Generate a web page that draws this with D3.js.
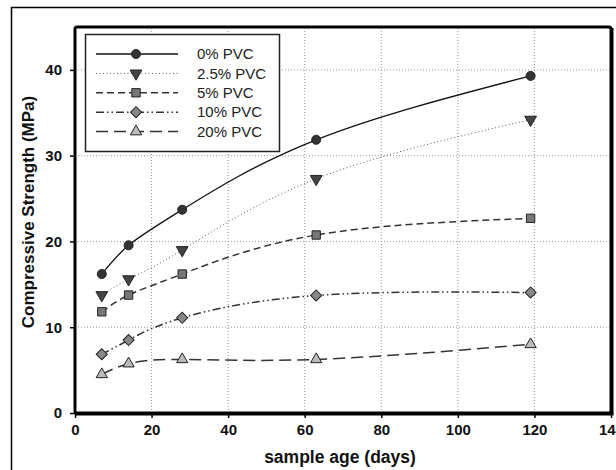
<!DOCTYPE html>
<html>
<head>
<meta charset="utf-8">
<script src="https://cdn.jsdelivr.net/npm/d3@7"></script>
<style>
  body { margin: 0; background: #fff; }
  svg { display: block; font-family: Arial, "Liberation Sans", sans-serif; }
</style>
</head>
<body>
<div id="chart"></div>
<script>
// sample ages (days)
const ages = [7, 14, 28, 63, 119];
const seriesNames = ['0% PVC', '2.5% PVC', '5% PVC', '10% PVC', '20% PVC'];
const pvc0 = [16.2, 19.55, 23.7, 31.85, 39.3];
const pvc25 = [13.75, 15.6, 19.0, 27.3, 34.2];
const pvc5 = [11.8, 13.75, 16.2, 20.75, 22.7];
const pvc10 = [6.85, 8.5, 11.1, 13.7, 14.05];
const pvc20 = [4.5, 5.75, 6.25, 6.25, 8.0];
const xTicks = [0, 20, 40, 60, 80, 100, 120, 140];
const yTicks = [0, 10, 20, 30, 40];

const width = 616, height = 470;
const margin = { top: 27, right: 5, bottom: 57, left: 75 };

const svg = d3.select('#chart').append('svg')
    .attr('width', width)
    .attr('height', height);

// outer frame, runs off the right and bottom edge
svg.append('rect')
    .attr('x', 11.5).attr('y', 7.5)
    .attr('width', 640).attr('height', 500)
    .style('fill', 'none').style('stroke', '#000').style('stroke-width', 1.5);

const x = d3.scaleLinear().domain([0, 140]).range([margin.left, width - margin.right]);
const y = d3.scaleLinear().domain([0, 45]).range([height - margin.bottom, margin.top]);

// grid
const grid = svg.append('g');
grid.selectAll('.gx')
    .data(xTicks.filter(d => d > 0 && d < 140))
    .join('line')
    .attr('x1', d => x(d)).attr('x2', d => x(d))
    .attr('y1', y(0)).attr('y2', y(45))
    .style('stroke', '#999').style('stroke-width', 1).style('stroke-dasharray', '1,2');
grid.selectAll('.gy')
    .data(yTicks.filter(d => d > 0))
    .join('line')
    .attr('x1', x(0)).attr('x2', x(140))
    .attr('y1', d => y(d)).attr('y2', d => y(d))
    .style('stroke', '#999').style('stroke-width', 1).style('stroke-dasharray', '1,2');

// series definitions
const series = [
    { name: seriesNames[0], values: pvc0, dash: null, width: 1.3, color: '#111', marker: 'circle', fill: '#333' },
    { name: seriesNames[1], values: pvc25, dash: '1,2.5', width: 1, color: '#555', marker: 'triDown', fill: '#444' },
    { name: seriesNames[2], values: pvc5, dash: '7,4', width: 1.5, color: '#333', marker: 'square', fill: '#777' },
    { name: seriesNames[3], values: pvc10, dash: '8,3,1.5,3,1.5,3', width: 1.5, color: '#333', marker: 'diamond', fill: '#888' },
    { name: seriesNames[4], values: pvc20, dash: '12,6', width: 1.5, color: '#333', marker: 'triUp', fill: '#bbb' }
];

const symbolFor = {
    circle: d3.symbol().type(d3.symbolCircle).size(64),
    square: d3.symbol().type(d3.symbolSquare).size(70),
    diamond: d3.symbol().type(d3.symbolSquare).size(62),
    triUp: d3.symbol().type(d3.symbolTriangle).size(55),
    triDown: d3.symbol().type(d3.symbolTriangle).size(60)
};
const rotateFor = { triDown: 180, diamond: 45 };

function drawMarker(g, s, cx, cy) {
    g.append('path')
        .attr('d', symbolFor[s.marker]())
        .attr('transform', `translate(${cx},${cy}) rotate(${rotateFor[s.marker] || 0})`)
        .style('fill', s.fill)
        .style('stroke', '#222')
        .style('stroke-width', 1);
}

const line = d3.line()
    .x(d => x(d[0]))
    .y(d => y(d[1]))
    .curve(d3.curveNatural);

const plot = svg.append('g');
series.forEach(s => {
    const pts = ages.map((a, i) => [a, s.values[i]]);
    plot.append('path')
        .datum(pts)
        .attr('d', line)
        .style('fill', 'none')
        .style('stroke', s.color)
        .style('stroke-width', s.width)
        .style('stroke-dasharray', s.dash);
});
series.forEach(s => {
    ages.forEach((a, i) => drawMarker(plot, s, x(a), y(s.values[i])));
});

// axes
const xAxis = svg.append('g')
    .attr('transform', `translate(0,${y(0)})`)
    .call(d3.axisBottom(x).tickValues(xTicks).tickSize(5).tickPadding(6));
const yAxis = svg.append('g')
    .attr('transform', `translate(${x(0)},0)`)
    .call(d3.axisLeft(y).tickValues(yTicks).tickSize(5).tickPadding(8));
[xAxis, yAxis].forEach(ax => {
    ax.select('.domain').remove();
    ax.selectAll('line').style('stroke', '#000').style('stroke-width', 1.5);
    ax.selectAll('text')
        .style('font-size', '15px')
        .style('font-weight', 'bold')
        .style('fill', '#111');
});

// plot frame with heavier right and bottom edges
svg.append('rect')
    .attr('x', x(0)).attr('y', y(45))
    .attr('width', x(140) - x(0)).attr('height', y(0) - y(45))
    .attr('rx', 2)
    .style('fill', 'none').style('stroke', '#000').style('stroke-width', 3);
svg.append('line')
    .attr('x1', x(140) + 1.5).attr('x2', x(140) + 1.5)
    .attr('y1', y(45) + 1).attr('y2', y(0) + 1.5)
    .style('stroke', '#000').style('stroke-width', 2);
svg.append('line')
    .attr('x1', x(0)).attr('x2', x(140) + 2.5)
    .attr('y1', y(0) + 1.5).attr('y2', y(0) + 1.5)
    .style('stroke', '#000').style('stroke-width', 2);

// axis titles
svg.append('text')
    .attr('x', 340).attr('y', 463)
    .style('text-anchor', 'middle')
    .style('font-size', '17.5px').style('font-weight', 'bold')
    .style('fill', '#111')
    .text('sample age (days)');
svg.append('text')
    .attr('transform', 'translate(34,212) rotate(-90)')
    .style('text-anchor', 'middle')
    .style('font-size', '17px').style('font-weight', 'bold')
    .style('fill', '#111')
    .text('Compressive Strength (MPa)');

// legend
const legend = svg.append('g');
legend.append('rect')
    .attr('x', 85.5).attr('y', 34.5)
    .attr('width', 194).attr('height', 117)
    .style('fill', '#fff').style('stroke', '#222').style('stroke-width', 1.5);
series.forEach((s, i) => {
    const ly = 54 + i * 19.4;
    legend.append('line')
        .attr('x1', 96).attr('x2', 178)
        .attr('y1', ly).attr('y2', ly)
        .style('stroke', s.color)
        .style('stroke-width', s.width)
        .style('stroke-dasharray', s.dash);
    drawMarker(legend, s, 136, ly);
    legend.append('text')
        .attr('x', 197).attr('y', ly)
        .attr('dy', '0.35em')
        .style('font-size', '15px')
        .style('fill', '#222')
        .text(s.name);
});
</script>
</body>
</html>
